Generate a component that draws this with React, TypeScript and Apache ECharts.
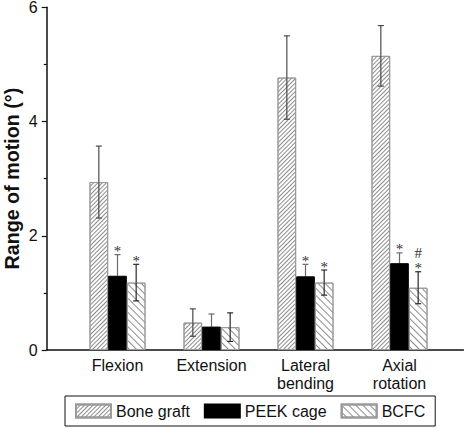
import { useEffect, useRef } from 'react';
import * as echarts from 'echarts';

// Range of motion (degrees) per loading direction, mean and standard deviation
const categories = ['Flexion', 'Extension', 'Lateral\nbending', 'Axial\nrotation'];
const seriesNames = ['Bone graft', 'PEEK cage', 'BCFC'];
const boneGraft = [2.94, 0.48, 4.77, 5.15];
const boneGraftSd = [0.63, 0.24, 0.73, 0.53];
const peekCage = [1.3, 0.41, 1.29, 1.52];
const peekCageSd = [0.37, 0.22, 0.21, 0.18];
const bcfc = [1.18, 0.4, 1.18, 1.09];
const bcfcSd = [0.32, 0.25, 0.22, 0.28];
// Significance markers drawn above each error bar
const boneGraftMarks = ['', '', '', ''];
const peekCageMarks = ['*', '', '*', '*'];
const bcfcMarks = ['*', '', '*', '#\n*'];
const yTicks = [0, 2, 4, 6];

const SANS = '"Liberation Sans", Arial, Helvetica, sans-serif';
const SERIF = '"Liberation Serif", "Times New Roman", serif';
const BAR_W = 18.67;

export default function App() {
  const ref = useRef<HTMLDivElement>(null);

  useEffect(() => {
    if (!ref.current) return;
    const chart = echarts.init(ref.current, undefined, { renderer: 'svg' });

    const groups = [
      {
        name: seriesNames[0],
        mean: boneGraft,
        sd: boneGraftSd,
        marks: boneGraftMarks,
        itemStyle: {
          color: '#ffffff',
          borderColor: '#9a9a9a',
          borderWidth: 1,
          decal: {
            symbol: 'rect',
            symbolSize: 1,
            color: '#8c8c8c',
            dashArrayX: [1, 0],
            dashArrayY: [1, 1.6],
            rotation: -Math.PI / 4,
          },
        },
        errUpper: '#4a4a4a',
        errLower: '#4a4a4a',
      },
      {
        name: seriesNames[1],
        mean: peekCage,
        sd: peekCageSd,
        marks: peekCageMarks,
        itemStyle: { color: '#000000', borderColor: '#000000', borderWidth: 1 },
        errUpper: '#6a6a6a',
        errLower: '#000000',
      },
      {
        name: seriesNames[2],
        mean: bcfc,
        sd: bcfcSd,
        marks: bcfcMarks,
        itemStyle: {
          color: '#ffffff',
          borderColor: '#9a9a9a',
          borderWidth: 1,
          decal: {
            symbol: 'rect',
            symbolSize: 1,
            color: '#8c8c8c',
            dashArrayX: [1, 0],
            dashArrayY: [1, 3.4],
            rotation: Math.PI / 4,
          },
        },
        errUpper: '#2a2a2a',
        errLower: '#2a2a2a',
      },
    ];

    const barSeries = groups.map((g) => ({
      type: 'bar',
      name: g.name,
      xAxisIndex: 0,
      yAxisIndex: 0,
      data: g.mean,
      barWidth: BAR_W,
      barGap: '0%',
      itemStyle: g.itemStyle,
      z: 2,
    }));

    const errorSeries = groups.map((g, k) => ({
      type: 'custom',
      name: g.name + ' SD',
      xAxisIndex: 0,
      yAxisIndex: 0,
      data: g.mean.map((v, i) => [i, v, g.sd[i]]),
      z: 5,
      silent: true,
      clip: false,
      renderItem: (params: any, api: any) => {
        const x = api.value(0);
        const m = api.value(1);
        const s = api.value(2);
        const off = (k - 1) * BAR_W;
        const pTop = api.coord([x, m + s]);
        const pMid = api.coord([x, m]);
        const pBot = api.coord([x, m - s]);
        const cx = pTop[0] + off;
        const cap = 3;
        const children: any[] = [
          {
            type: 'line',
            shape: { x1: cx, y1: pBot[1], x2: cx, y2: pMid[1] },
            style: { stroke: g.errLower, lineWidth: 1.2 },
          },
          {
            type: 'line',
            shape: { x1: cx - cap, y1: pBot[1], x2: cx + cap, y2: pBot[1] },
            style: { stroke: g.errLower, lineWidth: 1.2 },
          },
          {
            type: 'line',
            shape: { x1: cx, y1: pMid[1], x2: cx, y2: pTop[1] },
            style: { stroke: g.errUpper, lineWidth: 1.2 },
          },
          {
            type: 'line',
            shape: { x1: cx - cap, y1: pTop[1], x2: cx + cap, y2: pTop[1] },
            style: { stroke: g.errUpper, lineWidth: 1.2 },
          },
        ];
        const mark = g.marks[params.dataIndex];
        if (mark) {
          children.push({
            type: 'text',
            x: cx,
            y: pTop[1] + 4,
            style: {
              text: mark,
              fill: '#333333',
              font: '15px ' + SERIF,
              lineHeight: 15,
              align: 'center',
              verticalAlign: 'bottom',
            },
          });
        }
        return { type: 'group', children };
      },
    }));

    const top = 7.3;
    const bottom = 78;

    chart.setOption({
      animation: false,
      backgroundColor: '#ffffff',
      grid: [
        // plotting area holding the four category bands
        { left: 70.5, right: 17.5, top, bottom, containLabel: false, outerBoundsMode: 'none' },
        // full-width frame that carries the horizontal axis line
        { left: 46.7, right: 0.5, top, bottom, containLabel: false, outerBoundsMode: 'none' },
      ],
      legend: {
        data: seriesNames,
        left: 65,
        top: 396,
        orient: 'horizontal',
        itemWidth: 35,
        itemHeight: 13,
        itemGap: 14,
        icon: 'rect',
        borderColor: '#111',
        borderWidth: 1,
        padding: [7, 10, 7, 10],
        textStyle: { fontSize: 16, fontFamily: SANS, color: '#111' },
      },
      xAxis: [
        {
          type: 'category',
          gridIndex: 0,
          data: categories,
          boundaryGap: true,
          axisLine: { show: false },
          axisTick: { show: false },
          splitLine: { show: false },
          axisLabel: {
            interval: 0,
            fontSize: 16,
            fontFamily: SANS,
            color: '#111',
            lineHeight: 18,
            margin: 6,
          },
        },
        {
          type: 'value',
          gridIndex: 1,
          min: 0,
          max: 1,
          axisLine: { show: true, onZero: false, lineStyle: { color: '#111', width: 1.5 } },
          axisTick: { show: false },
          axisLabel: { show: false },
          splitLine: { show: false },
        },
      ],
      yAxis: [
        {
          type: 'value',
          gridIndex: 0,
          min: 0,
          max: 6,
          interval: 2,
          offset: 23.8,
          name: 'Range of motion (°)',
          nameLocation: 'middle',
          nameGap: 25,
          nameMoveOverlap: false,
          nameTextStyle: { fontSize: 19.7, fontWeight: 'bold', fontFamily: SANS, color: '#111' },
          splitLine: { show: false },
          axisLine: { show: true, onZero: false, lineStyle: { color: '#111', width: 1.5 } },
          axisTick: { show: true, length: 5, lineStyle: { color: '#111', width: 1.2 } },
          minorTick: { show: true, splitNumber: 2, length: 3, lineStyle: { color: '#111', width: 1.2 } },
          axisLabel: {
            customValues: yTicks,
            fontSize: 16,
            fontFamily: SANS,
            color: '#111',
            margin: 9,
          },
        },
        {
          type: 'value',
          gridIndex: 1,
          min: 0,
          max: 6,
          show: false,
        },
      ],
      series: [...barSeries, ...errorSeries],
    });

    return () => chart.dispose();
  }, []);

  return (
    <div
      ref={ref}
      style={{ position: 'fixed', left: 0, top: 0, width: 464, height: 428 }}
    />
  );
}
